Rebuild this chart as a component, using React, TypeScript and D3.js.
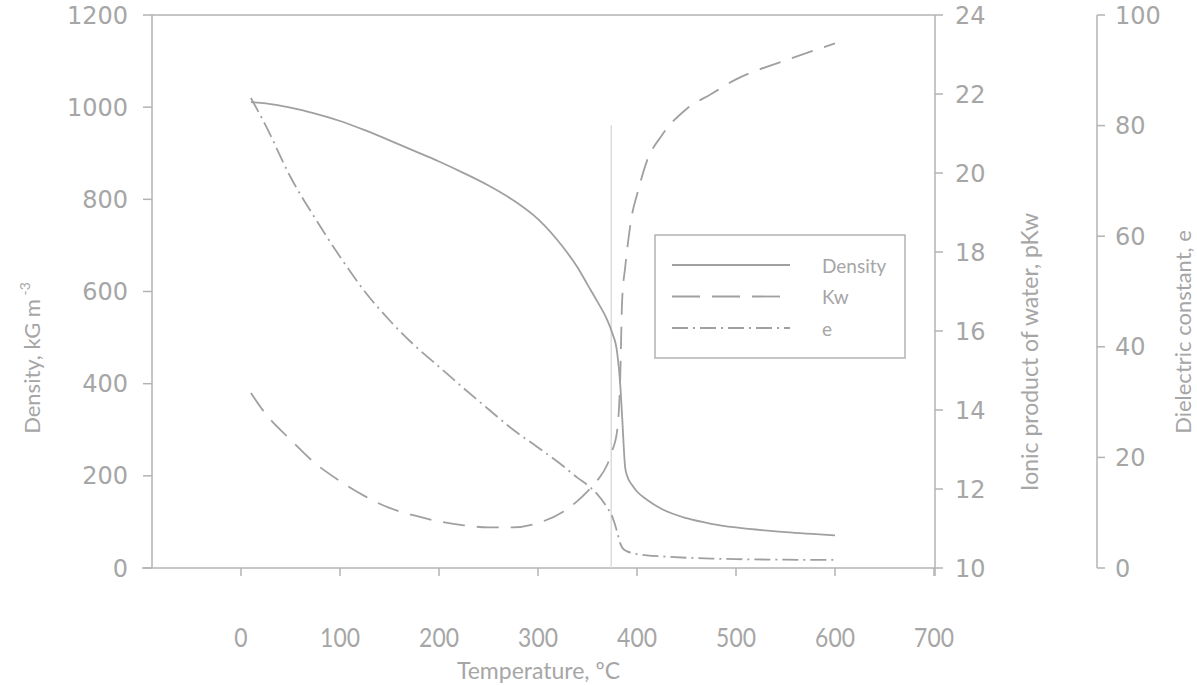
import React from "react";
import * as d3 from "d3";

const temperature = [10, 25, 50, 75, 100, 125, 150, 175, 200, 225, 250, 275, 300, 325, 340, 350, 360, 370, 375, 380, 383, 385, 388, 390, 395, 400, 410, 425, 450, 475, 500, 550, 600];
const density = [1011, 1008, 999, 986, 970, 950, 928, 905, 882, 857, 830, 798, 757, 697, 652, 615, 578, 538, 510, 467, 401, 328, 219, 200, 180, 166, 148, 128, 108, 96, 88, 78, 71];
const pKw = [14.43, 13.9, 13.25, 12.65, 12.2, 11.82, 11.52, 11.33, 11.18, 11.08, 11.03, 11.03, 11.14, 11.42, 11.7, 11.94, 12.22, 12.62, 12.97, 13.49, 14.76, 16.78, 17.6, 18.05, 18.95, 19.45, 20.3, 20.95, 21.62, 22.0, 22.37, 22.85, 23.28];
const dielectric = [85.0, 80.0, 70.7, 63.2, 56.3, 50.0, 44.8, 40.3, 36.4, 32.5, 28.7, 25.0, 21.8, 18.5, 16.3, 15.0, 13.3, 10.9, 9.3, 6.5, 4.5, 3.7, 3.2, 3.0, 2.7, 2.5, 2.3, 2.1, 1.85, 1.7, 1.6, 1.5, 1.45];

const xTicks = [0, 100, 200, 300, 400, 500, 600, 700];
const densityTicks = [0, 200, 400, 600, 800, 1000, 1200];
const kwTicks = [10, 12, 14, 16, 18, 20, 22, 24];
const eTicks = [0, 20, 40, 60, 80, 100];
const criticalT = 374;
const criticalLineTop = 961;

const legendItems = [
  { label: "Density", dash: "none" },
  { label: "Kw", dash: "28,12" },
  { label: "e", dash: "16,5,2,5" },
];

const GRAY = "#a6a6a6";
const AX = "#b3b3b3";

export default function App() {
  const W = 1197, H = 685;
  const top = 15, bottom = 568;
  const leftAxisX = 152, kwAxisX = 935, eAxisX = 1097;
  const x = d3.scaleLinear().domain([-100, 700]).range([142, 934]);
  const yD = d3.scaleLinear().domain([0, 1200]).range([bottom, top]);
  const yK = d3.scaleLinear().domain([10, 24]).range([bottom, top]);
  const yE = d3.scaleLinear().domain([0, 100]).range([bottom, top]);

  const mk = (vals: number[], ys: d3.ScaleLinear<number, number>) =>
    d3.line<number>().x((_, i) => x(temperature[i])).y((v) => ys(v)).curve(d3.curveMonotoneX)(vals) || "";

  const tickFont = "'DejaVu Sans', sans-serif";
  const labelFont = "Lato, 'Open Sans', sans-serif";

  return (
    <svg width={W} height={H} style={{ position: "absolute", left: 0, top: 0, background: "#fff" }}>
      <line x1={leftAxisX} x2={kwAxisX} y1={top} y2={top} stroke={AX} strokeWidth={1.5} />
      <line x1={leftAxisX} x2={leftAxisX} y1={top} y2={bottom} stroke={AX} strokeWidth={1.5} />
      {densityTicks.map((t) => (
        <g key={"d" + t}>
          <line x1={leftAxisX - 9} x2={leftAxisX} y1={yD(t)} y2={yD(t)} stroke={AX} strokeWidth={1.5} />
          <text x={leftAxisX - 24} y={yD(t)} dy="0.36em" textAnchor="end" fontFamily={tickFont} fontSize={24} fill={GRAY}>{t}</text>
        </g>
      ))}
      <line x1={x(-100)} x2={kwAxisX} y1={bottom} y2={bottom} stroke={AX} strokeWidth={1.5} />
      {xTicks.map((t) => (
        <g key={"x" + t}>
          <line x1={x(t)} x2={x(t)} y1={bottom} y2={bottom + 8} stroke={AX} strokeWidth={1.5} />
          <g transform={`translate(${x(t)},638) scale(0.88,1)`}>
            <text x={0} y={0} dy="0.36em" textAnchor="middle" fontFamily={labelFont} fontSize={26} fill={GRAY}>{t}</text>
          </g>
        </g>
      ))}
      <text x={(x(-100) + kwAxisX) / 2} y={671} dy="0.36em" textAnchor="middle" fontFamily={labelFont} fontSize={23} fill={GRAY}>Temperature, ºC</text>
      <line x1={kwAxisX} x2={kwAxisX} y1={top} y2={bottom + 8} stroke={AX} strokeWidth={1.5} />
      {kwTicks.map((t) => (
        <g key={"k" + t}>
          <line x1={kwAxisX} x2={kwAxisX + 8} y1={yK(t)} y2={yK(t)} stroke={AX} strokeWidth={1.5} />
          <text x={kwAxisX + 20} y={yK(t)} dy="0.36em" textAnchor="start" fontFamily={tickFont} fontSize={24} fill={GRAY}>{t}</text>
        </g>
      ))}
      <line x1={eAxisX} x2={eAxisX} y1={top} y2={bottom} stroke={AX} strokeWidth={1.5} />
      {eTicks.map((t) => (
        <g key={"e" + t}>
          <line x1={eAxisX} x2={eAxisX + 8} y1={yE(t)} y2={yE(t)} stroke={AX} strokeWidth={1.5} />
          <text x={eAxisX + 18} y={yE(t)} dy="0.36em" textAnchor="start" fontFamily={tickFont} fontSize={24} fill={GRAY}>{t}</text>
        </g>
      ))}
      <text transform="translate(40,358) rotate(-90)" textAnchor="middle" fontFamily={labelFont} fontSize={22} fill={GRAY}>
        Density, kG m<tspan dy="-10" fontSize={14}> -3</tspan>
      </text>
      <text transform="translate(1038,352) rotate(-90)" textAnchor="middle" fontFamily={labelFont} fontSize={23} fill={GRAY}>Ionic product of water, pKw</text>
      <text transform="translate(1191,332) rotate(-90)" textAnchor="middle" fontFamily={labelFont} fontSize={22} fill={GRAY}>Dielectric constant, e</text>

      <line x1={x(criticalT)} x2={x(criticalT)} y1={yD(0)} y2={yD(criticalLineTop)} stroke="#dcdcdc" strokeWidth={1.5} />

      <path d={mk(density, yD)} fill="none" stroke="#a0a0a0" strokeWidth={1.8} />
      <path d={mk(pKw, yK)} fill="none" stroke="#a0a0a0" strokeWidth={1.8} strokeDasharray="22,12" />
      <path d={mk(dielectric, yE)} fill="none" stroke="#a0a0a0" strokeWidth={1.8} strokeDasharray="16,5,2,5" />

      <rect x={655} y={235} width={250} height={123} fill="#fff" stroke={AX} strokeWidth={1.5} />
      {legendItems.map((it, i) => (
        <g key={it.label}>
          <line x1={672} x2={790} y1={265 + i * 31.5} y2={265 + i * 31.5} stroke="#a0a0a0" strokeWidth={1.8} strokeDasharray={it.dash} />
          <text x={822} y={266 + i * 31.5} dy="0.36em" fontFamily={labelFont} fontSize={19} fill={GRAY}>{it.label}</text>
        </g>
      ))}
    </svg>
  );
}
